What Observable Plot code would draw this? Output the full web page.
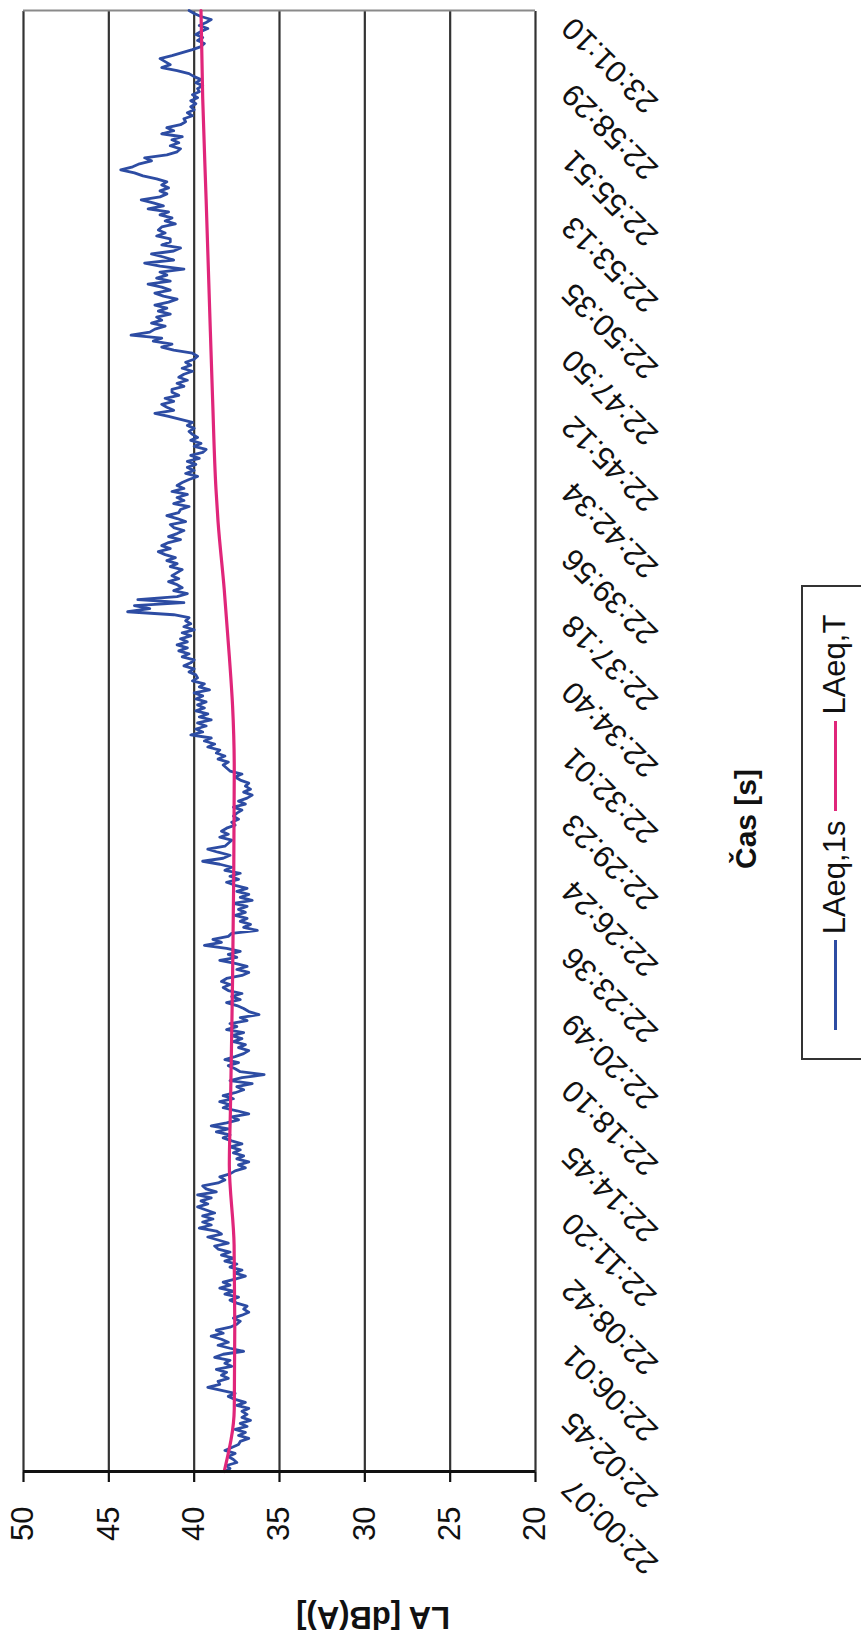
<!DOCTYPE html>
<html>
<head>
<meta charset="utf-8">
<script src="https://cdn.jsdelivr.net/npm/d3@7"></script>
<script src="https://cdn.jsdelivr.net/npm/@observablehq/plot@0.6"></script>
<style>
  html, body { margin: 0; padding: 0; background: #fff; width: 861px; height: 1634px; overflow: hidden; }
  #rot { position: absolute; left: 0; top: 0; width: 1634px; height: 861px; transform-origin: 0 0;
         transform: translate(0px, 1634px) rotate(-90deg); font-family: "Liberation Sans", Arial, sans-serif; color: #111; }
  #chart { position: absolute; left: 0; top: 0; width: 1634px; height: 861px; }
  #ytitle { position: absolute; left: 17px; top: 373px; transform: translate(-50%, -50%) rotate(-90deg);
            white-space: nowrap; font-weight: bold; font-size: 31px; }
  #xtitle { position: absolute; left: 815px; top: 746px; transform: translate(-50%, -50%);
            white-space: nowrap; font-weight: bold; font-size: 30px; }
  #legend { position: absolute; left: 574px; top: 801px; width: 475px; height: 68px; box-sizing: border-box;
            border: 2px solid #333; display: flex; align-items: center; justify-content: center; font-size: 31px; }
  .item { display: flex; align-items: center; }
  .sw { display: inline-block; width: 90px; height: 3px; margin-right: 6px; }
</style>
</head>
<body>
<div id="rot">
  <div id="chart"></div>
  <div id="ytitle">LA [dB(A)]</div>
  <div id="xtitle">Čas [s]</div>
  <div id="legend"></div>
</div>
<script>
// Category (time) labels shown on the axis, evenly spaced
const timeLabels = ["22:00:07","22:02:45","22:06:01","22:08:42","22:11:20","22:14:45","22:18:10","22:20:49",
  "22:23:36","22:26:24","22:29:23","22:32:01","22:34:40","22:37:18","22:39:56","22:42:34","22:45:12",
  "22:47:50","22:50:35","22:53:13","22:55:51","22:58:29","23:01:10"];
const yTicks = [20, 25, 30, 35, 40, 45, 50];
const seriesNames = ["LAeq,1s", "LAeq,T"];
const seriesColors = ["#2d4ca3", "#e0267a"];

// LAeq,1s (equal spacing from start to end)
const laeq1s = [
  38.2,37.9,38.1,37.5,37.7, 38.0,37.6,38.2,37.8,37.4, 37.3,36.8,37.4,37.0,37.6, 36.9,37.3,36.7,37.2,36.9,
  37.2,36.8,37.5,37.0,37.6, 38.0,37.6,38.4,39.2,38.5, 38.6,38.0,38.4,38.1,38.7, 37.8,38.2,37.9,38.8,38.3,
  37.1,37.9,38.6,38.0,38.4, 39.0,38.3,38.7,37.9,37.5, 37.3,37.7,37.2,36.8,37.1, 36.9,37.5,37.9,37.4,38.2,
  37.7,38.5,37.9,38.3,37.6, 37.0,37.6,37.2,37.9,37.5, 38.2,37.7,38.4,37.9,38.6, 38.8,38.0,38.6,39.2,38.4,
  38.7,39.7,39.0,39.5,38.9, 39.5,38.8,39.3,39.8,39.2, 39.6,39.0,39.8,38.7,39.3, 39.5,38.6,38.2,38.5,37.9,
  37.6,37.0,37.4,36.8,37.5, 37.1,37.7,37.3,37.9,37.2, 37.8,38.3,37.9,38.7,38.0, 39.0,38.1,37.4,37.8,36.8,
  37.5,38.3,37.9,38.5,37.7, 38.3,37.6,37.1,37.5,36.6, 37.9,37.2,35.9,37.3,37.6, 38.0,37.4,38.2,37.6,37.1,
  36.8,37.4,37.0,37.7,37.2, 37.8,37.1,38.1,37.5,37.9, 36.9,37.3,36.2,36.8,37.1, 37.5,38.1,37.3,37.8,37.2,
  38.0,38.3,37.9,38.4,38.1, 37.2,36.8,37.5,36.9,37.6, 38.5,37.5,38.0,37.3,38.1, 39.4,38.4,38.9,38.0,37.8,
  36.3,37.1,36.7,37.3,36.9, 37.6,37.0,37.4,36.9,37.7, 36.6,37.3,36.8,37.5,36.9, 37.6,38.1,37.4,37.9,37.3,
  38.2,37.8,38.5,39.5,38.3, 37.9,38.6,39.2,38.2,38.0, 37.8,38.5,38.0,38.4,38.1, 37.6,37.8,37.4,37.7,37.5,
  37.2,37.7,37.0,37.4,36.9, 36.6,37.1,36.7,37.0,36.8, 37.3,37.6,37.2,37.9,38.1, 38.3,38.0,38.6,38.2,38.7,
  38.5,39.2,38.8,39.4,39.0, 40.2,39.5,39.9,39.3,39.8, 39.0,39.7,39.2,39.9,39.4, 39.8,39.3,39.9,39.5,40.0,
  39.1,39.7,39.4,40.1,39.8, 39.9,40.3,40.0,40.6,40.2, 40.0,40.7,40.3,40.9,40.4, 41.0,40.4,40.8,40.2,40.7,
  40.0,40.6,40.2,40.5,40.3,
  41.2,43.9,42.6,43.5,40.6,43.3,41.0, 40.4,41.2,40.7,41.0, 41.5,40.9,41.3,41.0, 40.7,41.4,41.0,41.6,41.1,
  41.7,42.1,41.4,41.9,41.5,
  40.8,41.5,41.0,40.6,41.2, 41.4,40.5,41.0,41.6,40.9, 40.8,40.3,41.2,40.6,41.0, 40.4,41.3,40.6,41.0,40.7,
  40.3,39.8,40.5,40.0,40.4, 39.9,40.4,39.7,40.2,39.5, 39.3,40.0,39.6,40.2,39.8, 40.1,40.3,40.0,40.4,40.1,
  40.8,41.5,42.3,41.2,41.6, 41.9,41.2,41.7,40.9,41.3, 41.3,40.6,41.0,40.4,40.9, 40.6,40.1,40.7,40.2,40.5,
  40.0,39.8,40.1,41.2,41.9, 41.3,42.4,41.9,43.7,42.6, 42.3,41.7,42.5,41.9,42.2, 41.4,42.1,41.6,42.3,41.5,
  41.0,41.8,42.3,41.4,41.9, 42.7,41.4,42.2,41.6,42.0, 40.6,42.0,42.9,41.2,41.8, 42.5,41.2,40.8,41.9,41.4,
  41.4,42.2,41.7,42.1,41.9, 41.1,41.7,41.3,42.0,41.5, 42.7,41.8,42.4,43.1,42.0, 41.6,42.0,41.5,41.9,41.6,
  42.2,43.0,43.5,44.3,43.6, 43.2,42.5,42.9,41.6,41.0, 40.8,41.4,40.9,41.3,40.7, 41.9,41.2,41.6,40.8,40.5,
  40.6,40.1,40.4,40.0,40.2, 39.9,40.2,39.8,40.1,39.7, 39.8,39.5,39.9,39.6,40.0, 40.3,41.0,41.9,41.4,41.7,
  42.0,41.3,40.7,40.1,39.6, 39.4,39.8,39.5,39.9,39.6, 39.2,39.7,39.3,39.0,39.6, 40.0,40.3
];

// LAeq,T (running average): position along the time axis (0..1) and value
const laeqTPos = [0, 0.043, 0.10, 0.155, 0.21, 0.245, 0.30, 0.337, 0.41, 0.48, 0.524, 0.558, 0.604, 0.65, 0.672, 0.734, 0.78, 0.871, 0.94, 1.0];
const laeqTVal = [38.24, 37.65, 37.62, 37.66, 37.94, 37.88, 37.8, 37.75, 37.68, 37.65, 37.75, 37.94, 38.24, 38.6, 38.72, 38.92, 39.05, 39.3, 39.5, 39.6];

const blue = laeq1s.map((v, i) => ({x: i / (laeq1s.length - 1), v}));
const pink = laeqTPos.map((p, i) => ({x: p, v: laeqTVal[i]}));
const tickPos = timeLabels.map((d, i) => i / (timeLabels.length - 1));

const chart = Plot.plot({
  width: 1634, height: 861,
  marginLeft: 162, marginRight: 11, marginTop: 23, marginBottom: 326,
  style: {fontFamily: "'Liberation Sans', Arial, sans-serif", fontSize: "31px", background: "transparent", color: "#111", overflow: "visible"},
  x: {domain: [0, 1]},
  y: {domain: [20, 50]},
  marks: [
    Plot.ruleY(yTicks, {stroke: "#333", strokeWidth: 2.2}),
    Plot.ruleX([1], {stroke: "#8a8a8a", strokeWidth: 2}),
    Plot.line(blue, {x: "x", y: "v", stroke: seriesColors[0], strokeWidth: 2.8, strokeLinejoin: "round"}),
    Plot.line(pink, {x: "x", y: "v", stroke: seriesColors[1], strokeWidth: 3.2, curve: "monotone-x"}),
    Plot.ruleX([0], {stroke: "#111", strokeWidth: 3}),
    Plot.axisY({ticks: yTicks, tickSize: 10, tickPadding: 25, label: null, stroke: "#111", strokeWidth: 2.2, fill: "#111"}),
    Plot.axisX({ticks: tickPos, tickFormat: d => timeLabels[Math.round(d * (timeLabels.length - 1))],
      tickRotate: -45, tickSize: 0, tickPadding: 32, dx: -12, label: null, fill: "#111"})
  ]
});
document.getElementById("chart").appendChild(chart);

// legend
const legend = document.getElementById("legend");
seriesNames.forEach((name, i) => {
  const item = document.createElement("div");
  item.className = "item";
  item.style.marginRight = i === 0 ? "10px" : "0px";
  const sw = document.createElement("span");
  sw.className = "sw";
  sw.style.background = seriesColors[i];
  const tx = document.createElement("span");
  tx.textContent = name;
  item.appendChild(sw); item.appendChild(tx);
  legend.appendChild(item);
});
</script>
</body>
</html>
